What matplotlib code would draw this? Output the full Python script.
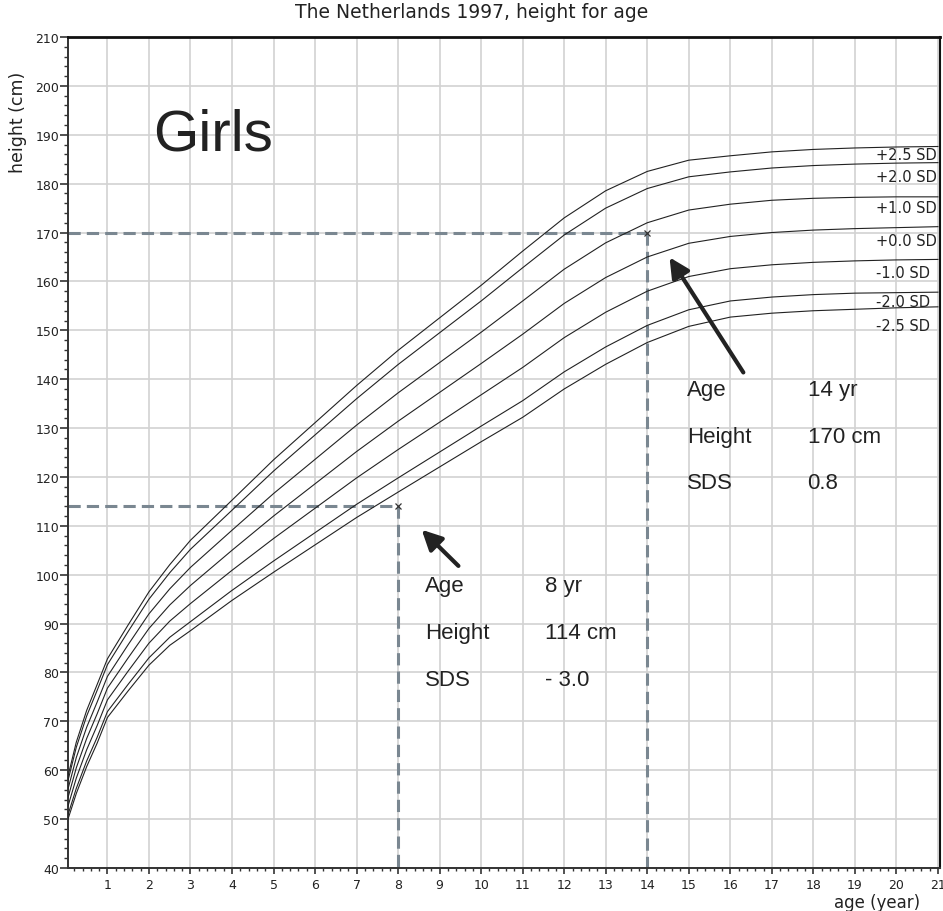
import matplotlib
matplotlib.use("Agg")
import matplotlib.pyplot as plt
from matplotlib.ticker import MultipleLocator

ages = [0.05, 0.25, 0.5, 0.75, 1, 1.5, 2, 2.5, 3, 4, 5, 6, 7, 8, 9, 10,
        11, 12, 13, 14, 15, 16, 17, 18, 19, 20, 21]

# height (cm) per SD line
sd_p25 = [58.8, 65.75, 72.25, 77.5, 82.8, 89.75, 96.5, 102.05, 107.05, 115.25, 123.5, 131.1, 138.7, 145.9,
          152.55, 159.2, 166.2, 173.0, 178.55, 182.5, 184.8, 185.7, 186.5, 187.0, 187.3, 187.5, 187.6]
sd_p20 = [57.9, 64.7, 71.1, 76.3, 81.6, 88.4, 95.0, 100.4, 105.2, 113.2, 121.2, 128.6, 136.0, 143.0,
          149.5, 156.0, 162.8, 169.5, 175.0, 179.0, 181.4, 182.4, 183.2, 183.7, 184.0, 184.2, 184.3]
sd_p10 = [56.15, 62.6, 68.8, 73.9, 79.2, 85.7, 92.0, 97.1, 101.5, 109.1, 116.6, 123.6, 130.6, 137.2,
          143.4, 149.6, 156.0, 162.5, 167.9, 172.0, 174.6, 175.8, 176.6, 177.0, 177.2, 177.3, 177.3]
sd_00 = [54.4, 60.5, 66.5, 71.5, 76.8, 83.0, 89.0, 93.8, 97.8, 105.0, 112.0, 118.6, 125.2, 131.4,
         137.3, 143.2, 149.2, 155.5, 160.8, 165.0, 167.8, 169.2, 170.0, 170.5, 170.8, 171.0, 171.2]
sd_m10 = [52.65, 58.4, 64.2, 69.1, 74.4, 80.3, 86.0, 90.5, 94.1, 100.9, 107.4, 113.6, 119.8, 125.6,
          131.2, 136.8, 142.4, 148.5, 153.7, 158.0, 161.0, 162.6, 163.4, 163.9, 164.2, 164.4, 164.5]
sd_m20 = [50.9, 56.3, 61.9, 66.7, 72.0, 77.6, 83.0, 87.2, 90.4, 96.8, 102.8, 108.6, 114.4, 119.8,
          125.1, 130.4, 135.6, 141.5, 146.6, 151.0, 154.2, 156.0, 156.8, 157.3, 157.6, 157.7, 157.8]
sd_m25 = [50.0, 55.25, 60.75, 65.5, 70.8, 76.25, 81.5, 85.55, 88.55, 94.75, 100.5, 106.1, 111.7, 116.9,
          122.05, 127.2, 132.2, 138.0, 143.05, 147.5, 150.8, 152.7, 153.5, 154.0, 154.3, 154.6, 154.8]

curves = [sd_p25, sd_p20, sd_p10, sd_00, sd_m10, sd_m20, sd_m25]
curve_labels = ["+2.5 SD", "+2.0 SD", "+1.0 SD", "+0.0 SD", "-1.0 SD", "-2.0 SD", "-2.5 SD"]
label_y = [185.9, 181.4, 175.2, 168.4, 161.9, 155.8, 150.9]

# two measured girls
pt_age = [8, 14]
pt_height = [114, 170]
pt_sds = ["- 3.0", "0.8"]

fig = plt.figure(figsize=(9.43, 9.12), dpi=100)
ax = fig.add_axes([68/943, 1-869/912, (940-68)/943, (869-38)/912])

for c in curves:
    ax.plot(ages, c, color="#222222", lw=0.8, zorder=3)

for lab, y in zip(curve_labels, label_y):
    ax.text(19.5, y, lab, ha="left", va="center", fontsize=10.5,
            family="DejaVu Sans", color="#222222", zorder=4)

# dashed guide lines to the two measurements
dash_col = "#7a8791"
for a, h in zip(pt_age, pt_height):
    ax.plot([0.05, a], [h, h], ls=(0, (4, 2)), color=dash_col, lw=2.2, zorder=2)
    ax.plot([a, a], [h, 40], ls=(0, (4, 2)), color=dash_col, lw=2.2, zorder=2)
    ax.plot(a, h, marker="x", color="#333333", ms=5, mew=0.9, zorder=5)

# arrows + info blocks
arrow_kw = dict(arrowstyle="-|>,head_length=1.2,head_width=0.6", color="#222222", lw=3)
ax.annotate("", xy=(8.52, 109.6), xytext=(9.5, 101.4), arrowprops=arrow_kw, zorder=6)
ax.annotate("", xy=(14.5, 165.4), xytext=(16.35, 140.9), arrowprops=arrow_kw, zorder=6)

info = [(8.64, 11.53, [97.8, 88.1, 78.5], 0), (14.95, 17.86, [137.9, 128.2, 118.8], 1)]
for xl, xv, ys, i in info:
    vals = ["%d yr" % pt_age[i], "%d cm" % pt_height[i], pt_sds[i]]
    for lab, v, y in zip(["Age", "Height", "SDS"], vals, ys):
        ax.text(xl, y, lab, fontsize=16, family="Liberation Sans", color="#222222", va="center")
        ax.text(xv, y, v, fontsize=16, family="Liberation Sans", color="#222222", va="center")

ax.text(3.55, 190.0, "Girls", fontsize=42, family="Liberation Sans", color="#222222",
        va="center", ha="center")

ax.set_xlim(0.05, 21.05)
ax.set_ylim(40, 210)
ax.xaxis.set_minor_locator(MultipleLocator(0.2))
ax.yaxis.set_major_locator(MultipleLocator(10))
ax.yaxis.set_minor_locator(MultipleLocator(2))
ax.set_xticks(range(1, 22))
ax.set_xticklabels([str(i) for i in range(1, 22)])
ax.tick_params(axis="x", which="major", direction="out", length=4.5, width=1.2, color="#333333",
               labelsize=9, pad=2.5, labelcolor="#222222")
ax.tick_params(axis="x", which="minor", direction="out", length=2.4, width=1.0, color="#333333")
ax.tick_params(axis="y", which="major", direction="out", length=5.8, width=1.2, color="#333333",
               labelsize=9, pad=0.5, labelcolor="#222222")
ax.tick_params(axis="y", which="minor", direction="out", length=3, width=1.0, color="#333333")
ax.grid(True, which="major", color="#d2d2d2", lw=1.2, zorder=0)
ax.set_axisbelow(True)
for s in ["left", "bottom"]:
    ax.spines[s].set_color("#333333")
    ax.spines[s].set_linewidth(1.4)
ax.spines["top"].set_color("#111111")
ax.spines["top"].set_linewidth(2)
ax.spines["right"].set_color("#111111")
ax.spines["right"].set_linewidth(1.5)

fig.text(0.5, 1-12/912, "The Netherlands 1997, height for age", ha="center", va="center",
         fontsize=13.5, color="#222222")
fig.text(18/943, 1-122/912, "height (cm)", rotation=90, ha="center", va="center",
         fontsize=12.5, color="#222222")
fig.text(920/943, 1-903/912, "age (year)", ha="right", va="center",
         fontsize=12, color="#222222")

fig.savefig("out.png", dpi=100)
